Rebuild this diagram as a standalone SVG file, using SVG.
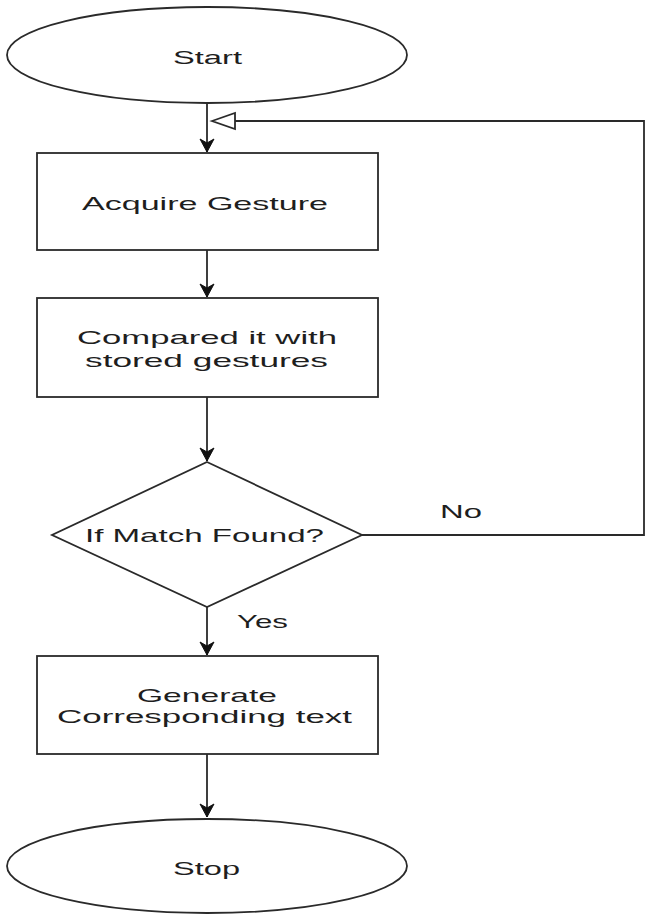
<svg xmlns="http://www.w3.org/2000/svg" width="645" height="914" viewBox="0 0 645 914">
  <style>
    .shape { fill: #ffffff; stroke: #2a2a2a; stroke-width: 1.8; }
    .conn { fill: none; stroke: #2a2a2a; stroke-width: 1.8; }
    .lbl { font-family: "Liberation Sans", Arial, sans-serif; font-size: 19px; fill: #1e1e1e; }
  </style>
  <defs>
    <marker id="arrow" markerUnits="userSpaceOnUse" markerWidth="18" markerHeight="18" viewBox="-16 -9 18 18" refX="0" refY="0" orient="auto">
      <path d="M0,0 L-13,-7 L-9,0 L-13,7 Z" fill="#111111" stroke="#111111" stroke-width="1"/>
    </marker>
  </defs>
  <rect width="645" height="914" fill="#ffffff"/>

  <g id="connectors">
    <path class="conn" d="M207,104 V152" marker-end="url(#arrow)"/>
    <path class="conn" d="M207,250 V297" marker-end="url(#arrow)"/>
    <path class="conn" d="M207,397 V461" marker-end="url(#arrow)"/>
    <path class="conn" d="M207,607 V655" marker-end="url(#arrow)"/>
    <path class="conn" d="M207,754 V817" marker-end="url(#arrow)"/>
    <path class="conn" d="M362,535 H644 V121 H235"/>
    <path d="M212,121 L235,113 L235,129 Z" fill="#ffffff" stroke="#2a2a2a" stroke-width="1.8"/>
    <text class="lbl" x="440" y="518" textLength="42" lengthAdjust="spacingAndGlyphs">No</text>
    <text class="lbl" x="237" y="628" textLength="51" lengthAdjust="spacingAndGlyphs">Yes</text>
  </g>

  <g id="start">
    <ellipse class="shape" cx="207" cy="55" rx="200" ry="48"/>
    <text class="lbl" x="173" y="64" textLength="69" lengthAdjust="spacingAndGlyphs">Start</text>
  </g>

  <g id="acquire">
    <rect class="shape" x="37" y="153" width="341" height="97"/>
    <text class="lbl" x="82" y="210" textLength="246" lengthAdjust="spacingAndGlyphs">Acquire Gesture</text>
  </g>

  <g id="compare">
    <rect class="shape" x="37" y="298" width="341" height="99"/>
    <text class="lbl" x="77" y="344" textLength="260" lengthAdjust="spacingAndGlyphs">Compared it with</text>
    <text class="lbl" x="85" y="367" textLength="243" lengthAdjust="spacingAndGlyphs">stored gestures</text>
  </g>

  <g id="decision">
    <polygon class="shape" points="207,462 362,535 207,607 52,535"/>
    <text class="lbl" x="85" y="542" textLength="239" lengthAdjust="spacingAndGlyphs">If Match Found?</text>
  </g>

  <g id="generate">
    <rect class="shape" x="37" y="656" width="341" height="98"/>
    <text class="lbl" x="137" y="702" textLength="140" lengthAdjust="spacingAndGlyphs">Generate</text>
    <text class="lbl" x="57" y="723" textLength="295" lengthAdjust="spacingAndGlyphs">Corresponding text</text>
  </g>

  <g id="stop">
    <ellipse class="shape" cx="207" cy="866" rx="200" ry="47"/>
    <text class="lbl" x="173" y="875" textLength="67" lengthAdjust="spacingAndGlyphs">Stop</text>
  </g>
</svg>
